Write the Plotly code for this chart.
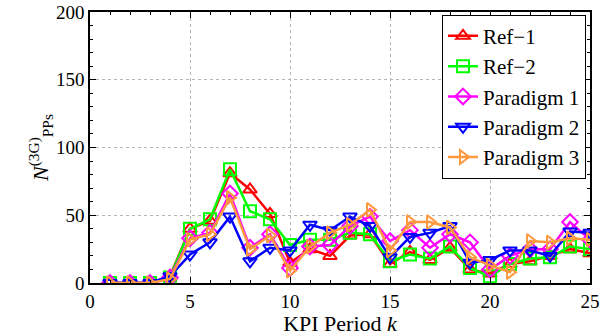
import plotly.graph_objects as go

periods = list(range(1, 26))
ref1 = [0, 0, 0, 5, 40, 46, 81, 69, 51, 15, 25, 20, 35, 36, 14, 23, 17, 26, 10, 7, 14, 16, 20, 25, 22]
ref2 = [0, 0, 0, 4, 40, 47, 84, 53, 47, 28, 32, 32, 37, 36, 16, 21, 18, 27, 11, 5, 14, 18, 19, 27, 25]
para1 = [0, 0, 0, 4, 33, 37, 66, 26, 36, 11, 27, 28, 42, 49, 31, 39, 26, 36, 30, 10, 20, 25, 25, 45, 32]
para2 = [0, 0, 0, 5, 21, 30, 49, 16, 26, 24, 43, 39, 49, 42, 19, 34, 37, 42, 15, 17, 24, 24, 20, 38, 37]
para3 = [0, 0, 0, 3, 32, 36, 63, 25, 35, 9, 27, 37, 43, 54, 24, 45, 45, 41, 19, 13, 8, 31, 30, 33, 32]

names = ["Ref\u22121", "Ref\u22122", "Paradigm 1", "Paradigm 2", "Paradigm 3"]
series = [ref1, ref2, para1, para2, para3]
colors = ["#FF0000", "#00FF00", "#FF00FF", "#0000FF", "#FF9940"]
symbols = ["triangle-up-open", "square-open", "diamond-open", "triangle-down-open", "triangle-right-open"]

font = "Liberation Serif"

fig = go.Figure()
for name, ys, c, s in zip(names, series, colors, symbols):
    fig.add_trace(go.Scatter(
        x=periods, y=ys, name=name, mode="lines+markers",
        line=dict(color=c, width=2.5),
        marker=dict(symbol=s, size=12, color=c, line=dict(color=c, width=2)),
    ))

axis_common = dict(
    showline=True, linecolor="black", linewidth=1.5, mirror="ticks",
    ticks="inside", ticklen=6, tickcolor="black",
    showgrid=True, gridcolor="#b5b5b5", griddash="dot", gridwidth=1,
    zeroline=False, automargin=False, ticklabeloverflow="allow",
    tickfont=dict(family=font, size=19, color="black"),
)

fig.update_xaxes(
    range=[0, 25], dtick=5, tick0=0,
    minor=dict(dtick=1, ticks="inside", ticklen=3, tickcolor="black", showgrid=False),
    title=dict(text="KPI Period <i>k</i>", font=dict(family=font, size=22, color="black"), standoff=0),
    **axis_common,
)
fig.update_yaxes(
    range=[0, 200], dtick=50, tick0=0,
    minor=dict(dtick=10, ticks="inside", ticklen=3, tickcolor="black", showgrid=False),
    title=dict(text="<i>N</i><sup>(3G)</sup><sub>PPs</sub>", font=dict(family=font, size=22, color="black"), standoff=0),
    **axis_common,
)

fig.update_layout(
    template="none",
    width=600, height=336,
    margin=dict(l=90, r=10, t=12, b=53),
    paper_bgcolor="white", plot_bgcolor="white",
    font=dict(family=font, color="black"),
    legend=dict(
        x=0.992, y=0.99, xanchor="right", yanchor="top",
        bgcolor="white", bordercolor="black", borderwidth=1,
        font=dict(family=font, size=21, color="black"),
        tracegroupgap=0, itemwidth=30,
    ),
    showlegend=True,
)

fig.write_html("out.html", config={"displayModeBar": False},
               post_script="document.body.style.margin='0';")
